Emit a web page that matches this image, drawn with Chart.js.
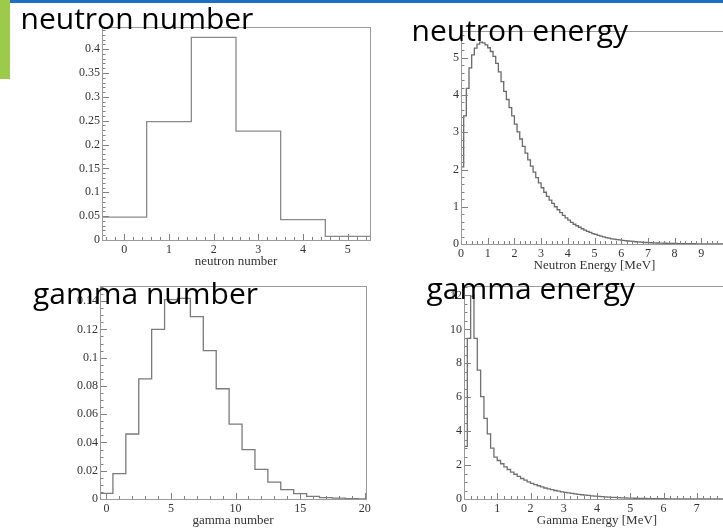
<!DOCTYPE html>
<html><head><meta charset="utf-8">
<script src="https://cdn.jsdelivr.net/npm/chart.js@4.4.1/dist/chart.umd.min.js"></script>
<style>
html,body{margin:0;padding:0;width:723px;height:528px;overflow:hidden;background:#fff;position:relative}
canvas{position:absolute;left:0;top:0}
.ttl{position:absolute;font-family:"Open Sans";font-size:30px;line-height:30px;color:#000;white-space:nowrap}
#bar{position:absolute;left:0;top:0;width:10px;height:79px;background:#9ccb4c}
#topline{position:absolute;left:10px;top:0;width:713px;height:3px;background:#1c6fc2}
</style></head><body>
<canvas id="c1" width="760" height="528"></canvas>
<canvas id="c2" width="760" height="528"></canvas>
<canvas id="c3" width="760" height="528"></canvas>
<canvas id="c4" width="760" height="528"></canvas>
<div id="bar"></div><div id="topline"></div>
<div class="ttl" style="left:20.5px;top:3.4px">neutron number</div>
<div class="ttl" style="left:411.5px;top:15px">neutron energy</div>
<div class="ttl" style="left:33px;top:277.6px">gamma number</div>
<div class="ttl" style="left:426.5px;top:273.4px">gamma energy</div>
<script>
// ---- data ----
const nNumEdgesRange = [-0.5, 5.5];
const nNumValues = [0.048, 0.248, 0.4245, 0.228, 0.0425, 0.0077];
const nNumXTicks = [0, 1, 2, 3, 4, 5];
const nNumYTicks = [0, 0.05, 0.1, 0.15, 0.2, 0.25, 0.3, 0.35, 0.4];

const nEnRange = [0, 10];
const nEnValues = [2.07,3.44,4.18,4.73,5.08,5.26,5.37,5.42,5.40,5.35,
 5.27,5.17,5.04,4.85,4.62,4.36,4.10,3.88,3.66,3.44,
 3.22,3.01,2.82,2.62,2.44,2.26,2.09,1.93,1.78,1.64,
 1.51,1.39,1.28,1.18,1.09,1.00,0.92,0.84,0.77,0.70,
 0.64,0.58,0.53,0.49,0.45,0.41,0.37,0.34,0.31,0.28,
 0.26,0.23,0.21,0.19,0.17,0.16,0.14,0.13,0.12,0.11,
 0.10,0.09,0.08,0.075,0.068,0.061,0.055,0.05,0.045,0.04,
 0.036,0.033,0.03,0.027,0.024,0.022,0.02,0.018,0.016,0.015,
 0.013,0.012,0.011,0.01,0.009,0.008,0.007,0.0065,0.006,0.005,
 0.0045,0.004,0.0037,0.0033,0.003,0.0027,0.0024,0.0022,0.002,0.0018];
const nEnXTicks = [0, 1, 2, 3, 4, 5, 6, 7, 8, 9];
const nEnYTicks = [0, 1, 2, 3, 4, 5];

const gNumRange = [-0.5, 20.5];
const gNumValues = [0.004, 0.018, 0.046, 0.085, 0.120, 0.141, 0.142, 0.129, 0.105, 0.078,
 0.053, 0.035, 0.021, 0.012, 0.0066, 0.0038, 0.0019, 0.001, 0.0006, 0.0003, 0.0001];
const gNumXTicks = [0, 5, 10, 15, 20];
const gNumYTicks = [0, 0.02, 0.04, 0.06, 0.08, 0.1, 0.12, 0.14];

const gEnRange = [0, 8];
const gEnValues = [3.1,9.47,11.96,9.47,7.6,6.04,4.76,3.84,3.0,2.47,
 2.27,2.08,1.90,1.74,1.59,1.46,1.33,1.21,1.11,1.01,
 0.92,0.85,0.78,0.71,0.65,0.60,0.55,0.50,0.46,0.42,
 0.39,0.36,0.33,0.30,0.27,0.25,0.23,0.21,0.19,0.175,
 0.16,0.145,0.13,0.115,0.10,0.09,0.08,0.07,0.062,0.055,
 0.05,0.045,0.04,0.036,0.032,0.028,0.025,0.022,0.019,0.017,
 0.015,0.013,0.012,0.011,0.01,0.009,0.008,0.007,0.006,0.0055,
 0.005,0.0045,0.004,0.0035,0.003,0.0027,0.0024,0.002,0.0018,0.0015];
const gEnXTicks = [0, 1, 2, 3, 4, 5, 6, 7];
const gEnYTicks = [0, 2, 4, 6, 8, 10, 12];

// ---- drawing ----
const W = 760, H = 528, YW = 44, XH = 29;
const rootFrame = {
  id: 'rootFrame',
  afterDatasetsDraw(chart, args, o) {
    const {ctx, chartArea: a, scales: {x, y}} = chart;
    ctx.save();
    ctx.lineWidth = 1;
    ctx.strokeStyle = o.tickColor;
    ctx.beginPath();
    const eps = 1e-9;
    const ym = o.yMajor / o.ySub;
    for (let k = Math.ceil(y.min / ym - eps); k * ym <= y.max + eps; k++) {
      const py = Math.round(y.getPixelForValue(k * ym)) + 0.5;
      const len = (k % o.ySub === 0) ? 7 : 3.5;
      ctx.moveTo(a.left, py); ctx.lineTo(a.left + len, py);
    }
    const xm = o.xMajor / o.xSub;
    for (let k = Math.ceil(x.min / xm - eps); k * xm <= x.max + eps; k++) {
      const px = Math.round(x.getPixelForValue(k * xm)) + 0.5;
      const len = (k % o.xSub === 0) ? 6 : 3;
      ctx.moveTo(px, a.bottom); ctx.lineTo(px, a.bottom - len);
    }
    ctx.stroke();
    ctx.strokeStyle = o.frameColor;
    ctx.strokeRect(Math.round(a.left) + 0.5, Math.round(a.top) + 0.5,
      Math.round(a.right - a.left), Math.round(a.bottom - a.top));
    ctx.restore();
  }
};

function hist(id, p) {
  const n = p.values.length;
  const bw = (p.range[1] - p.range[0]) / n;
  const pts = [{x: p.range[0], y: 0}];
  p.values.forEach((v, i) => pts.push({x: p.range[0] + i * bw, y: v}));
  pts.push({x: p.range[0] + n * bw, y: p.values[n - 1]});
  const A = p.area;
  const font = {family: 'Liberation Serif', size: 12};
  new Chart(document.getElementById(id), {
    type: 'line',
    data: {datasets: [{data: pts, stepped: 'before', borderColor: p.color, borderWidth: 1.3,
      pointRadius: 0, fill: false, tension: 0}]},
    options: {
      responsive: false, animation: false, events: [],
      layout: {padding: {left: A[0] - YW, top: A[1], right: W - A[2], bottom: H - A[3] - XH}},
      plugins: {legend: {display: false}, tooltip: {enabled: false},
        rootFrame: {frameColor: '#9a9a9a', tickColor: '#808080',
          xMajor: p.xMajor, xSub: p.xSub, yMajor: p.yMajor, ySub: p.ySub}},
      scales: {
        x: {type: 'linear', min: p.xMin, max: p.xMax,
          grid: {display: false, drawTicks: false}, border: {display: false},
          afterBuildTicks: s => { s.ticks = p.xTicks.map(v => ({value: v})); },
          afterFit: s => { s.height = XH; },
          ticks: {font, color: '#333', padding: 3, maxRotation: 0, autoSkip: false,
            callback: v => String(v)},
          title: {display: true, text: p.xTitle, font: {family: 'Liberation Serif', size: 13},
            color: '#333', padding: {top: 0, bottom: 0}}},
        y: {type: 'linear', min: 0, max: p.yMax,
          grid: {display: false, drawTicks: false}, border: {display: false},
          afterBuildTicks: s => { s.ticks = p.yTicks.map(v => ({value: v})); },
          afterFit: s => { s.width = YW; },
          ticks: {font, color: '#333', padding: 2, autoSkip: false, callback: v => String(v)}}
      }
    },
    plugins: [rootFrame]
  });
}

hist('c1', {values: nNumValues, range: nNumEdgesRange, xMin: -0.5, xMax: 5.5, yMax: 0.4464,
  xTicks: nNumXTicks, yTicks: nNumYTicks, xMajor: 1, xSub: 5, yMajor: 0.05, ySub: 5,
  xTitle: 'neutron number', color: '#8a8a8a', area: [102, 27, 370, 240]});
hist('c2', {values: nEnValues, range: nEnRange, xMin: 0, xMax: 10, yMax: 5.72,
  xTicks: nEnXTicks, yTicks: nEnYTicks, xMajor: 1, xSub: 5, yMajor: 1, ySub: 5,
  xTitle: 'Neutron Energy [MeV]', color: '#6a6a6a', area: [461, 31, 728, 244]});
hist('c3', {values: gNumValues, range: gNumRange, xMin: -0.5, xMax: 20.1, yMax: 0.1507,
  xTicks: gNumXTicks, yTicks: gNumYTicks, xMajor: 5, xSub: 5, yMajor: 0.02, ySub: 4,
  xTitle: 'gamma number', color: '#7a7a7a', area: [100, 286, 366, 499]});
hist('c4', {values: gEnValues, range: gEnRange, xMin: 0, xMax: 8, yMax: 12.56,
  xTicks: gEnXTicks, yTicks: gEnYTicks, xMajor: 1, xSub: 5, yMajor: 2, ySub: 4,
  xTitle: 'Gamma Energy [MeV]', color: '#707070', area: [464, 286, 730, 499]});
</script>
</body></html>
